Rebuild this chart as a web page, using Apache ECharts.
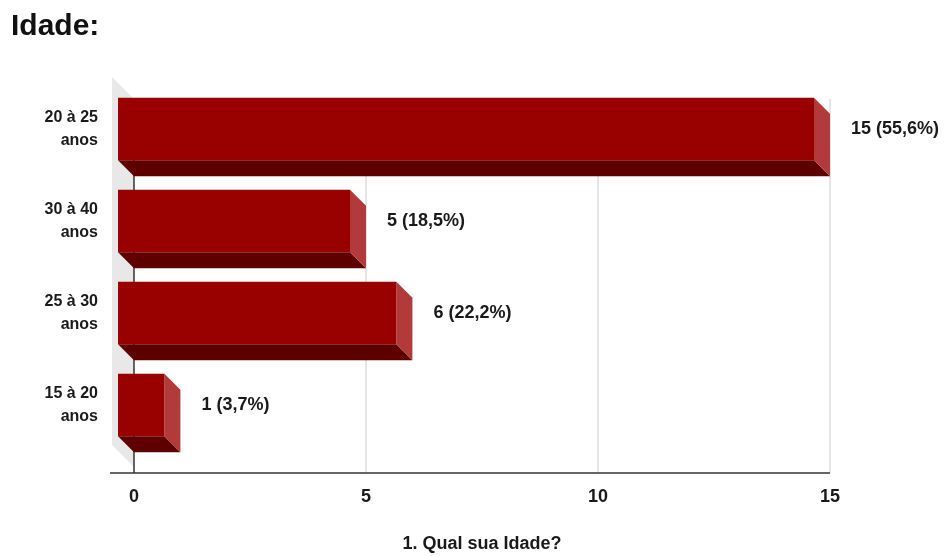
<!DOCTYPE html>
<html>
<head>
<meta charset="utf-8">
<script src="https://cdn.jsdelivr.net/npm/echarts@6/dist/echarts.min.js"></script>
<style>
  html, body { margin: 0; padding: 0; background: #ffffff; }
  #chart { width: 944px; height: 556px; }
</style>
</head>
<body>
<div id="chart"></div>
<script>
// Age groups, top to bottom
const categories = ['20 à 25\nanos', '30 à 40\nanos', '25 à 30\nanos', '15 à 20\nanos'];
const counts = [15, 5, 6, 1];
const percents = ['55,6%', '18,5%', '22,2%', '3,7%'];
const xTicks = [0, 5, 10, 15];

const FONT = '"Liberation Sans", Arial, sans-serif';
const DEPTH = 16;        // extrusion of each bar
const WALL_DEPTH = 22;   // extrusion of the left wall
const AXIS_DROP = 6;     // x axis sits slightly below the plot floor

const barData = counts.map((v, i) => [v, i, percents[i]]);

function renderBar(params, api) {
  const v = api.value(0);
  const idx = api.value(1);
  const pct = barData[params.dataIndex][2];
  const p0 = api.coord([0, idx]);
  const p1 = api.coord([v, idx]);
  const band = api.size([0, 1])[1];
  const h = band * 0.68;
  const xb0 = p0[0], xb1 = p1[0];
  const yt = p0[1] - h / 2, yb = p0[1] + h / 2;
  const d = DEPTH;
  return {
    type: 'group',
    children: [
      { // bottom face
        type: 'polygon',
        shape: { points: [[xb0 - d, yb - d], [xb1 - d, yb - d], [xb1, yb], [xb0, yb]] },
        style: { fill: '#5e0000' }
      },
      { // right face
        type: 'polygon',
        shape: { points: [[xb1 - d, yt - d], [xb1, yt], [xb1, yb], [xb1 - d, yb - d]] },
        style: { fill: '#b23a3a' }
      },
      { // front face
        type: 'rect',
        shape: { x: xb0 - d, y: yt - d, width: xb1 - xb0, height: h },
        style: { fill: '#990000' }
      },
      { // value label beside the bar
        type: 'text',
        x: xb1 + 21,
        y: p0[1] - d,
        style: {
          text: v + ' (' + pct + ')',
          font: 'bold 18px ' + FONT,
          fill: '#1a1a1a',
          align: 'left',
          verticalAlign: 'middle'
        }
      },
      { // category label, aligned with the front face of the bar
        type: 'text',
        x: xb0 - 36,
        y: p0[1] - d,
        style: {
          text: categories[idx],
          font: 'bold 16px ' + FONT,
          lineHeight: 23,
          fill: '#1a1a1a',
          align: 'right',
          verticalAlign: 'middle'
        }
      }
    ]
  };
}

function renderFrame(params, api) {
  const cs = params.coordSys;
  const xb = api.coord([0, 0])[0];
  const top = cs.y, bottom = cs.y + cs.height;
  const w = WALL_DEPTH;
  const axisY = bottom + AXIS_DROP;
  const children = [
    { // left wall
      type: 'polygon',
      shape: { points: [[xb, top], [xb, bottom], [xb - w, bottom - w], [xb - w, top - w]] },
      style: { fill: '#e8e8e8' },
      z2: 0
    },
    { // x axis line, running under the wall as well
      type: 'line',
      shape: { x1: xb - w - 2, y1: axisY, x2: cs.x + cs.width, y2: axisY },
      style: { stroke: '#333333', lineWidth: 1.5 },
      z2: 2
    },
    { // vertical axis line
      type: 'line',
      shape: { x1: xb, y1: top, x2: xb, y2: axisY },
      style: { stroke: '#333333', lineWidth: 1.5 },
      z2: 2
    }
  ];
  xTicks.slice(1).forEach(t => {
    const x = api.coord([t, 0])[0];
    children.push({
      type: 'line',
      shape: { x1: x, y1: top, x2: x, y2: axisY },
      style: { stroke: '#cccccc', lineWidth: 1 },
      z2: 1
    });
  });
  return { type: 'group', children };
}

const chart = echarts.init(document.getElementById('chart'), null, { renderer: 'canvas' });
chart.setOption({
  animation: false,
  backgroundColor: '#ffffff',
  title: {
    text: 'Idade:',
    left: 11,
    top: 12,
    padding: 0,
    textStyle: { fontFamily: FONT, fontWeight: 'bold', fontSize: 30, color: '#111111' }
  },
  grid: {
    left: 134, right: 114, top: 99, bottom: 89,
    containLabel: false,
    outerBoundsMode: 'none'
  },
  xAxis: {
    type: 'value',
    min: 0,
    max: 15,
    interval: 5,
    offset: AXIS_DROP,
    name: '1. Qual sua Idade?',
    nameLocation: 'middle',
    nameGap: 62,
    nameTextStyle: { fontFamily: FONT, fontWeight: 'bold', fontSize: 18, color: '#1a1a1a' },
    axisLine: { show: false },
    axisTick: { show: false },
    splitLine: { show: false },
    axisLabel: {
      margin: 15,
      fontFamily: FONT,
      fontWeight: 'bold',
      fontSize: 18,
      color: '#1a1a1a'
    }
  },
  yAxis: {
    type: 'category',
    inverse: true,
    data: categories,
    axisLine: { show: false },
    axisTick: { show: false },
    splitLine: { show: false },
    axisLabel: { show: false }
  },
  series: [
    {
      type: 'custom',
      name: 'frame',
      renderItem: renderFrame,
      data: [[0, 0]],
      encode: { x: 0, y: 1 },
      silent: true,
      z: 1
    },
    {
      type: 'custom',
      name: 'Idade',
      renderItem: renderBar,
      data: barData,
      encode: { x: 0, y: 1 },
      clip: false,
      z: 2
    }
  ]
});
</script>
</body>
</html>
